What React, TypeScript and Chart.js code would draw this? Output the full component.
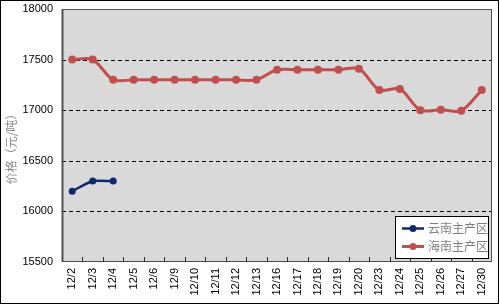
import React, { useEffect, useRef } from "react";
import { Chart, registerables } from "chart.js";

Chart.register(...registerables);

const categories = ["12/2","12/3","12/4","12/5","12/6","12/9","12/10","12/11","12/12","12/13","12/16","12/17","12/18","12/19","12/20","12/23","12/24","12/25","12/26","12/27","12/30"];
const yunnan: (number | null)[] = [16200, 16300, 16300, null, null, null, null, null, null, null, null, null, null, null, null, null, null, null, null, null, null];
const hainan = [17500, 17500, 17300, 17300, 17300, 17300, 17300, 17300, 17300, 17300, 17400, 17400, 17400, 17400, 17410, 17200, 17210, 17000, 17005, 16995, 17200];
const seriesNames = ["云南主产区", "海南主产区"];
const seriesColors = ["#0D2A6B", "#C0504D"];
const yTitle = "价格（元/吨）";
const dashedLevels = [16000, 16500, 17000, 17500];

const decor = {
  id: "decor",
  beforeDraw(chart: any) {
    const { ctx, chartArea: a } = chart;
    ctx.save();
    ctx.fillStyle = "#ffffff";
    ctx.fillRect(0, 0, chart.width, chart.height);
    ctx.fillStyle = "#D9D9D9";
    ctx.fillRect(a.left, a.top, a.right - a.left, a.bottom - a.top);
    const ys = chart.scales.y;
    ctx.strokeStyle = "#000000";
    ctx.lineWidth = 1;
    ctx.setLineDash([4, 3]);
    ctx.beginPath();
    dashedLevels.forEach((v) => {
      const y = Math.round(ys.getPixelForValue(v)) + 0.5;
      ctx.moveTo(a.left, y);
      ctx.lineTo(a.right, y);
    });
    ctx.stroke();
    ctx.setLineDash([]);
    // y title
    ctx.translate(11, 146);
    ctx.rotate(-Math.PI / 2);
    ctx.fillStyle = "#8C8C8C";
    ctx.font = "12px 'Noto Sans CJK SC'";
    ctx.textAlign = "center";
    ctx.textBaseline = "middle";
    ctx.fillText(yTitle, 0, 0);
    ctx.restore();
  },
  afterDatasetsDraw(chart: any) {
    const { ctx, chartArea: a } = chart;
    ctx.save();
    ctx.strokeStyle = "#505050";
    ctx.lineWidth = 1;
    ctx.strokeRect(a.left + 0.5, a.top + 0.5, a.right - a.left - 1, a.bottom - a.top - 1);
    ctx.beginPath();
    ctx.lineWidth = 2;
    ctx.moveTo(a.left + 0.5, a.top);
    ctx.lineTo(a.left + 0.5, a.bottom);
    ctx.stroke();
    const n = categories.length;
    const step = (a.right - a.left) / n;
    ctx.lineWidth = 1;
    ctx.strokeStyle = "#303030";
    ctx.beginPath();
    for (let k = 1; k < n; k++) {
      const x = Math.round(a.left + k * step) + 0.5;
      ctx.moveTo(x, a.bottom);
      ctx.lineTo(x, a.bottom - 5);
    }
    ctx.stroke();
    ctx.strokeStyle = "#000000";
    ctx.lineWidth = 1;
    ctx.strokeRect(0.5, 0.5, 498, 303);
    const lx = 395, ly = 216, lw = 93, lh = 42;
    ctx.fillStyle = "#ffffff";
    ctx.fillRect(lx, ly, lw, lh);
    ctx.strokeStyle = "#000000";
    ctx.strokeRect(lx + 0.5, ly + 0.5, lw, lh);
    const rows = [228.5, 246.5];
    rows.forEach((y, i) => {
      ctx.strokeStyle = seriesColors[i];
      ctx.lineWidth = i === 0 ? 2.5 : 3;
      ctx.beginPath();
      ctx.moveTo(402, y);
      ctx.lineTo(424, y);
      ctx.stroke();
      ctx.fillStyle = seriesColors[i];
      ctx.beginPath();
      ctx.arc(413, y, 3.5, 0, Math.PI * 2);
      ctx.fill();
      ctx.fillStyle = "#7F7F7F";
      ctx.font = "12px 'Noto Sans CJK SC'";
      ctx.textBaseline = "middle";
      ctx.textAlign = "left";
      ctx.fillText(seriesNames[i], 428, y);
    });
    ctx.restore();
  },
};

export default function App() {
  const ref = useRef<HTMLCanvasElement>(null);
  useEffect(() => {
    document.body.style.margin = "0";
    const chart = new Chart(ref.current!, {
      type: "line",
      data: {
        labels: categories,
        datasets: [
          {
            label: seriesNames[0],
            data: yunnan,
            borderColor: seriesColors[0],
            backgroundColor: seriesColors[0],
            borderWidth: 2.5,
            pointRadius: 3.5,
            pointBackgroundColor: seriesColors[0],
            pointBorderWidth: 0,
            tension: 0.2,
            spanGaps: false,
          },
          {
            label: seriesNames[1],
            data: hainan,
            borderColor: seriesColors[1],
            backgroundColor: seriesColors[1],
            borderWidth: 3,
            pointRadius: 4,
            pointBackgroundColor: seriesColors[1],
            pointBorderWidth: 0,
            tension: 0.3,
          },
        ],
      },
      options: {
        animation: false,
        responsive: false,
        maintainAspectRatio: false,
        layout: { padding: { left: 0, top: 9, right: 8, bottom: 0 } },
        plugins: { legend: { display: false }, tooltip: { enabled: false } },
        scales: {
          x: {
            offset: true,
            grid: { display: false, drawTicks: false, offset: true },
            border: { display: false },
            ticks: {
              minRotation: 90,
              maxRotation: 90,
              padding: 6,
              color: "#000000",
              font: { family: "'Liberation Sans', Arial", size: 11 },
              autoSkip: false,
            },
            afterFit(scale: any) {
              scale.height = 43;
              scale.paddingLeft = 0;
              scale.paddingRight = 0;
              scale.paddingTop = 0;
              scale.paddingBottom = 0;
            },
          },
          y: {
            min: 15500,
            max: 18000,
            ticks: {
              stepSize: 500,
              padding: 9,
              color: "#000000",
              font: { family: "'Liberation Sans', Arial", size: 11 },
              callback: (v: any) => String(v),
            },
            grid: { display: false, drawTicks: false },
            border: { display: false },
            title: { display: false, text: yTitle },
            afterFit(scale: any) {
              scale.width = 62;
              scale.paddingTop = 0;
              scale.paddingBottom = 0;
            },
          },
        },
      },
      plugins: [decor],
    });
    return () => chart.destroy();
  }, []);
  return (
    <div style={{ width: 500, height: 305 }}>
      <canvas ref={ref} width={500} height={305} style={{ display: "block" }} />
    </div>
  );
}
